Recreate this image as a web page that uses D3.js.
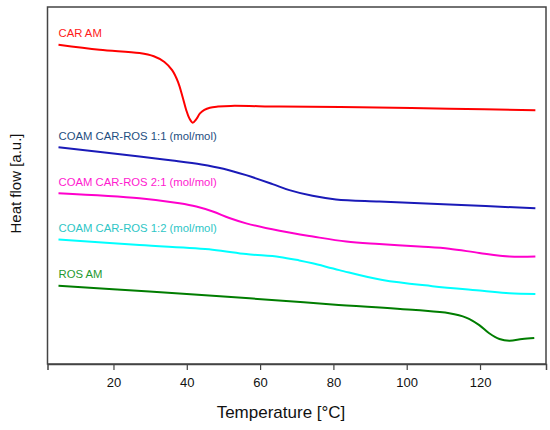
<!DOCTYPE html>
<html>
<head>
<meta charset="utf-8">
<script src="https://cdn.jsdelivr.net/npm/d3@7"></script>
<style>
  body { margin: 0; background: #fff; }
  svg { font-family: "Liberation Sans", Arial, sans-serif; }
</style>
</head>
<body>
<div id="wrapper"></div>
<script>
// data: [temperature °C, heat flow a.u.]
const carAm = [[5,89.4],[16.2,88.0],[27.1,87.1],[31.0,86.2],[33.9,84.6],[36.0,82.3],[37.6,79.0],[38.8,75.0],[39.8,71.3],[40.7,68.8],[41.6,67.6],[42.6,68.6],[43.6,70.2],[44.8,71.2],[46.3,71.8],[48.5,72.1],[52.0,72.3],[65.3,72.1],[87.1,71.9],[111.6,71.5],[135.1,71.1]]
const coam11 = [[5,60.7],[27.1,58.1],[36.1,57.0],[44.0,55.9],[50.0,54.7],[56.2,52.9],[63.4,50.4],[68.0,48.7],[74.3,47.1],[80.7,46.1],[92.5,45.5],[111.6,44.7],[135.1,43.6]]
const coam21 = [[5,47.8],[27.1,46.4],[38.0,45.0],[42.6,44.1],[47.1,42.7],[51.6,40.9],[56.2,39.4],[65.3,37.3],[74.4,35.7],[83.5,34.3],[92.5,33.6],[103.4,32.9],[111.6,32.3],[119.8,31.1],[128.0,30.1],[135.1,30.1]]
const coam12 = [[5,34.9],[27.1,33.3],[47.0,32.0],[56.2,30.8],[65.3,30.0],[70.7,29.0],[74.3,28.2],[81.6,26.3],[93.4,23.5],[107.0,21.8],[120.6,20.5],[128.0,19.8],[135.1,19.6]]
const rosAm = [[5,21.9],[29.8,20.3],[57.1,18.4],[79.7,16.7],[102.5,15.1],[111.6,14.2],[116.2,13.0],[119.8,10.9],[122.5,8.6],[125.3,7.0],[128.0,6.5],[131.5,7.0],[134.8,7.3]]

const seriesNames = ["CAR AM", "COAM CAR-ROS 1:1 (mol/mol)", "COAM CAR-ROS 2:1 (mol/mol)", "COAM CAR-ROS 1:2 (mol/mol)", "ROS AM"]
const seriesData = [carAm, coam11, coam21, coam12, rosAm]
const xTicks = [20, 40, 60, 80, 100, 120]

const lineColors = ["#ff0000", "#1a1ab8", "#ff00cc", "#00ffff", "#007d00"]
const labelColors = ["#ff1a1a", "#1f4f7f", "#ff1ad0", "#2ec6c6", "#1f9a30"]

const dim = {
  width: 550,
  height: 430,
  margin: { top: 7, right: 4, bottom: 66, left: 47.5 }
}
dim.bound_width = dim.width - dim.margin.left - dim.margin.right
dim.bound_height = dim.height - dim.margin.top - dim.margin.bottom

const svg = d3.select("#wrapper")
  .append("svg")
  .attr("width", dim.width)
  .attr("height", dim.height)

const chart = svg.append("g")
  .attr("transform", `translate(${dim.margin.left},${dim.margin.top})`)

const x_scale = d3.scaleLinear()
  .domain([2, 138])
  .range([0, dim.bound_width])
const y_scale = d3.scaleLinear()
  .domain([0, 100])
  .range([dim.bound_height, 0])

// frame
chart.append("rect")
  .attr("width", dim.bound_width)
  .attr("height", dim.bound_height)
  .attr("fill", "none")
  .attr("stroke", "#444")
  .attr("stroke-width", 1.5)

// x axis
const xAxis = chart.append("g")
  .attr("transform", `translate(0,${dim.bound_height})`)
  .call(d3.axisBottom(x_scale).tickValues(xTicks).tickSize(6).tickPadding(8))
xAxis.select(".domain").attr("stroke", "#444").attr("stroke-width", 1.5)
xAxis.selectAll(".tick line").attr("stroke", "#444").attr("stroke-width", 1.2)
xAxis.selectAll(".tick text")
  .attr("font-size", 13)
  .attr("fill", "#111")
  .attr("font-family", "Liberation Sans, Arial, sans-serif")

// lines
const line = d3.line()
  .x(d => x_scale(d[0]))
  .y(d => y_scale(d[1]))
  .curve(d3.curveCatmullRom.alpha(0.5))

seriesData.forEach((s, i) => {
  chart.append("path")
    .datum(s)
    .attr("d", line)
    .attr("fill", "none")
    .attr("stroke", lineColors[i])
    .attr("stroke-width", 2)
    .attr("stroke-linejoin", "round")

  chart.append("text")
    .attr("x", x_scale(s[0][0]))
    .attr("y", y_scale(s[0][1]) - 10.5)
    .attr("dominant-baseline", "middle")
    .attr("font-size", 11.3)
    .attr("fill", labelColors[i])
    .text(seriesNames[i])
})

// axis titles
svg.append("text")
  .attr("x", 281)
  .attr("y", 418)
  .attr("text-anchor", "middle")
  .attr("font-size", 17)
  .attr("fill", "#111")
  .text("Temperature [°C]")

svg.append("text")
  .attr("transform", `translate(21,${dim.margin.top + dim.bound_height / 2 - 2}) rotate(-90)`)
  .attr("text-anchor", "middle")
  .attr("font-size", 15)
  .attr("fill", "#111")
  .text("Heat flow [a.u.]")
</script>
</body>
</html>
